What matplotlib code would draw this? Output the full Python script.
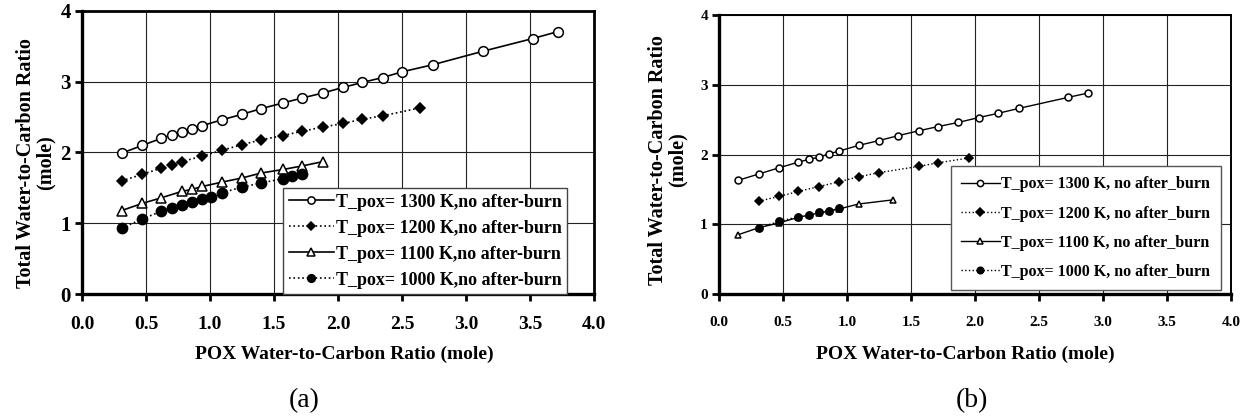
import matplotlib
matplotlib.use("Agg")
import matplotlib.pyplot as plt

plt.rcParams['font.family'] = ['Liberation Serif', 'DejaVu Serif']

# ---------------- Panel (a) data ----------------
a_1300_x = [0.31, 0.47, 0.62, 0.70, 0.78, 0.86, 0.94, 1.09, 1.25, 1.40, 1.57, 1.72, 1.88, 2.04, 2.19, 2.35, 2.50, 2.74, 3.13, 3.52, 3.72]
a_1300_y = [1.99, 2.10, 2.20, 2.25, 2.29, 2.33, 2.38, 2.46, 2.54, 2.62, 2.70, 2.77, 2.84, 2.92, 2.99, 3.06, 3.14, 3.24, 3.43, 3.61, 3.71]

a_1200_x = [0.31, 0.47, 0.62, 0.70, 0.78, 0.94, 1.09, 1.25, 1.40, 1.57, 1.72, 1.88, 2.04, 2.19, 2.35, 2.64]
a_1200_y = [1.60, 1.69, 1.78, 1.83, 1.87, 1.95, 2.03, 2.11, 2.18, 2.24, 2.30, 2.36, 2.41, 2.47, 2.52, 2.63]

a_1100_x = [0.31, 0.47, 0.62, 0.78, 0.86, 0.94, 1.09, 1.25, 1.40, 1.57, 1.72, 1.88]
a_1100_y = [1.18, 1.28, 1.36, 1.45, 1.48, 1.52, 1.58, 1.64, 1.71, 1.76, 1.81, 1.87]

a_1000_x = [0.31, 0.47, 0.62, 0.70, 0.78, 0.86, 0.94, 1.01, 1.09, 1.25, 1.40, 1.57, 1.64, 1.72]
a_1000_y = [0.93, 1.06, 1.17, 1.22, 1.26, 1.30, 1.34, 1.37, 1.43, 1.51, 1.57, 1.63, 1.67, 1.69]

a_labels = ["T_pox= 1300 K,no after-burn", "T_pox= 1200 K,no after-burn",
            "T_pox= 1100 K,no after-burn", "T_pox= 1000 K,no after-burn"]

# ---------------- Panel (b) data ----------------
b_1300_x = [0.15, 0.31, 0.47, 0.62, 0.70, 0.78, 0.86, 0.94, 1.09, 1.25, 1.40, 1.56, 1.71, 1.87, 2.03, 2.18, 2.34, 2.73, 2.88]
b_1300_y = [1.63, 1.72, 1.81, 1.89, 1.93, 1.96, 2.01, 2.05, 2.13, 2.20, 2.27, 2.34, 2.40, 2.46, 2.53, 2.59, 2.66, 2.82, 2.88]

b_1200_x = [0.31, 0.47, 0.62, 0.78, 0.94, 1.09, 1.25, 1.56, 1.71, 1.95]
b_1200_y = [1.33, 1.40, 1.47, 1.54, 1.61, 1.68, 1.74, 1.83, 1.88, 1.95]

b_1100_x = [0.15, 0.31, 0.47, 0.62, 0.70, 0.78, 0.86, 0.94, 1.09, 1.36]
b_1100_y = [0.85, 0.95, 1.02, 1.10, 1.13, 1.16, 1.19, 1.22, 1.29, 1.35]

b_1000_x = [0.31, 0.47, 0.62, 0.70, 0.78, 0.86, 0.94]
b_1000_y = [0.95, 1.04, 1.11, 1.13, 1.17, 1.19, 1.23]

b_labels = ["T_pox= 1300 K, no after_burn", "T_pox= 1200 K, no after_burn",
            "T_pox= 1100 K, no after_burn", "T_pox= 1000 K, no after_burn"]

x_ticks = [0.0, 0.5, 1.0, 1.5, 2.0, 2.5, 3.0, 3.5, 4.0]
x_ticklabels = ["0.0", "0.5", "1.0", "1.5", "2.0", "2.5", "3.0", "3.5", "4.0"]
y_ticks = [0, 1, 2, 3, 4]
y_ticklabels = ["0", "1", "2", "3", "4"]

xlabel_text = "POX Water-to-Carbon Ratio (mole)"
ylabel_text = "Total Water-to-Carbon Ratio\n(mole)"

W, H = 1247, 419
fig = plt.figure(figsize=(W / 100, H / 100), dpi=100)


def px_axes(x0, x1, ytop, ybot):
    return fig.add_axes([x0 / W, 1 - ybot / H, (x1 - x0) / W, (ybot - ytop) / H])


def style_axes(ax, xtick_fs, ytick_fs, xpad, top_lw):
    ax.set_xlim(0, 4)
    ax.set_ylim(0, 4)
    ax.set_xticks(x_ticks)
    ax.set_xticklabels(x_ticklabels, fontsize=xtick_fs, fontweight='bold')
    ax.set_yticks(y_ticks)
    ax.set_yticklabels(y_ticklabels, fontsize=ytick_fs, fontweight='bold')
    ax.grid(True, color='#222222', linewidth=0.8)
    ax.set_axisbelow(True)
    for s in ['left', 'bottom']:
        ax.spines[s].set_linewidth(2.4)
    for s in ['top', 'right']:
        ax.spines[s].set_linewidth(top_lw)
    ax.tick_params(axis='both', direction='out', length=5, width=2, colors='black')
    ax.tick_params(axis='x', pad=xpad)
    ax.tick_params(axis='y', pad=3)


def draw_series(ax, data, labels, ms, lw):
    styles = [
        dict(ls='-', marker='o', mfc='white'),
        dict(ls=':', marker='D', mfc='black'),
        dict(ls='-', marker='^', mfc='white'),
        dict(ls=':', marker='o', mfc='black'),
    ]
    sizes = [ms, ms * 0.8, ms, ms * 1.05]
    handles = []
    for (xs, ys), st, lab, sz in zip(data, styles, labels, sizes):
        h, = ax.plot(xs, ys, color='black', linestyle=st['ls'], linewidth=lw,
                     marker=st['marker'], markersize=sz, markerfacecolor=st['mfc'],
                     markeredgecolor='black', markeredgewidth=1.1, label=lab,
                     clip_on=False)
        handles.append(h)
    return handles


# ---------------- Panel (a) ----------------
ax1 = px_axes(82, 594, 11, 294)
style_axes(ax1, 14, 15, 11, 2.0)
h1 = draw_series(ax1, [(a_1300_x, a_1300_y), (a_1200_x, a_1200_y),
                       (a_1100_x, a_1100_y), (a_1000_x, a_1000_y)], a_labels, 7, 1.2)
leg1 = ax1.legend(handles=h1, loc='lower left', bbox_to_anchor=(0.393, 0.0),
                  frameon=True, fancybox=False, framealpha=1, edgecolor='#444444',
                  borderaxespad=0, handlelength=2.5, handletextpad=0.1,
                  labelspacing=0.5, borderpad=0.3, markerscale=0.75,
                  prop={'family': 'Liberation Serif', 'weight': 'bold', 'size': 13})
leg1.get_frame().set_linewidth(1.0)

fig.text(36 / W, 1 - 163 / H, ylabel_text, rotation=90, ha='center', va='center',
         multialignment='center', fontsize=14.5, fontweight='bold', linespacing=1.0)
fig.text(344 / W, 1 - 354 / H, xlabel_text, ha='center', va='center',
         fontsize=14, fontweight='bold')
fig.text(304 / W, 1 - 401 / H, "(a)", ha='center', va='center', fontsize=20)

# ---------------- Panel (b) ----------------
ax2 = px_axes(719, 1231, 15, 294)
style_axes(ax2, 11, 11, 11, 1.4)
h2 = draw_series(ax2, [(b_1300_x, b_1300_y), (b_1200_x, b_1200_y),
                       (b_1100_x, b_1100_y), (b_1000_x, b_1000_y)], b_labels, 5, 1.0)
leg2 = ax2.legend(handles=h2, loc='lower left', bbox_to_anchor=(0.453, 0.014),
                  frameon=True, fancybox=False, framealpha=1, edgecolor='#555555',
                  borderaxespad=0, handlelength=2.4, handletextpad=0.1,
                  labelspacing=0.82, borderpad=0.65, markerscale=0.9,
                  prop={'family': 'Liberation Serif', 'weight': 'bold', 'size': 11.5})
leg2.get_frame().set_linewidth(1.0)

fig.text(668 / W, 1 - 160 / H, ylabel_text, rotation=90, ha='center', va='center',
         multialignment='center', fontsize=14.5, fontweight='bold', linespacing=1.0)
fig.text(965 / W, 1 - 354 / H, xlabel_text, ha='center', va='center',
         fontsize=14, fontweight='bold')
fig.text(972 / W, 1 - 401 / H, "(b)", ha='center', va='center', fontsize=20)

fig.savefig("out.png", dpi=100)
